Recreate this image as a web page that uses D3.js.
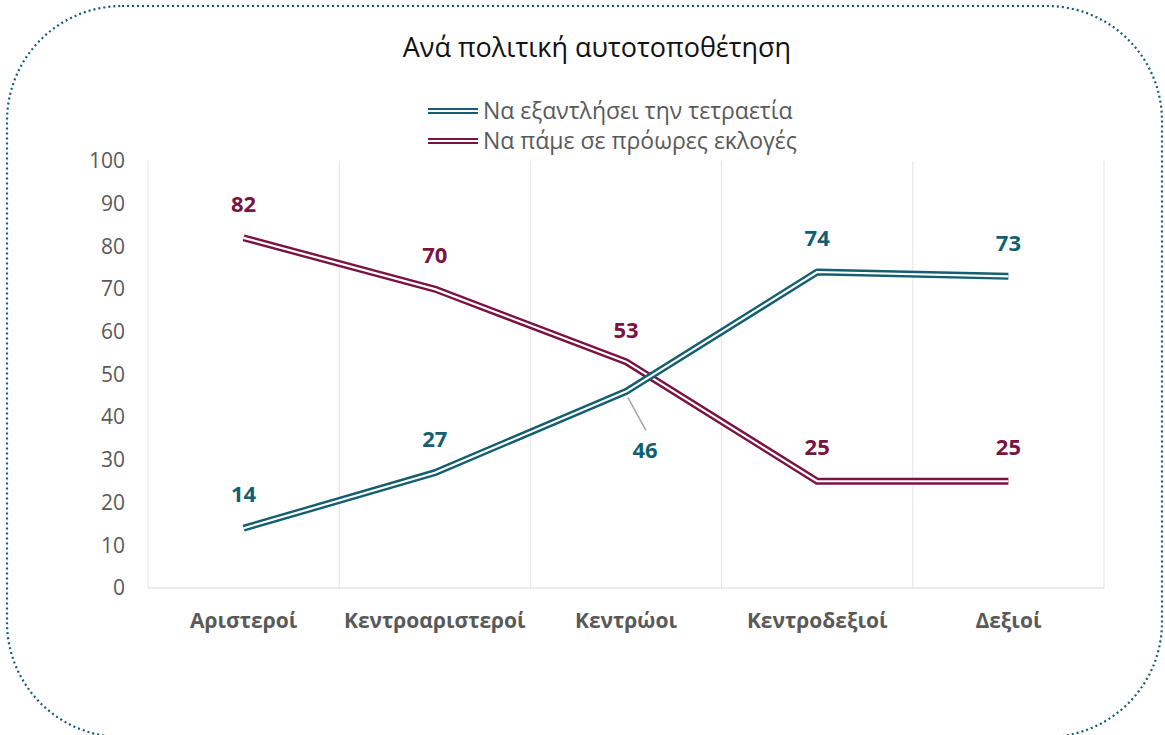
<!DOCTYPE html>
<html>
<head>
<meta charset="utf-8">
<script src="https://cdn.jsdelivr.net/npm/d3@7"></script>
<style>
  body { margin: 0; background: #fff; }
  svg text { font-family: "Open Sans", sans-serif; }
</style>
</head>
<body>
<svg id="chart" width="1165" height="735"></svg>
<script>
// categories and series
var categories = ["Αριστεροί", "Κεντροαριστεροί", "Κεντρώοι", "Κεντροδεξιοί", "Δεξιοί"];
var finishTerm = [14, 27, 46, 74, 73];
var earlyVote = [82, 70, 53, 25, 25];
var yTicks = [0, 10, 20, 30, 40, 50, 60, 70, 80, 90, 100];
var seriesNames = ["Να εξαντλήσει την τετραετία", "Να πάμε σε πρόωρες εκλογές"];

var teal = "#135f6f", maroon = "#7a1343", grey = "#595959";
var svg = d3.select("#chart");
var plotL = 148, plotR = 1104, plotT = 161, plotB = 588;
var fontFam = "'Open Sans', sans-serif";

// frame: dotted rounded border
svg.append("rect")
  .attr("x", 7).attr("y", 6).attr("width", 1155).attr("height", 731)
  .attr("rx", 115).attr("ry", 115)
  .attr("fill", "none").attr("stroke", teal)
  .attr("stroke-width", 2.2).attr("stroke-dasharray", "2 3");

svg.append("text").attr("x", 597).attr("y", 57)
  .attr("text-anchor", "middle").attr("font-size", 27).attr("fill", "#111")
  .text("Ανά πολιτική αυτοτοποθέτηση");

var x = d3.scaleBand().domain(categories).range([plotL, plotR]);
var y = d3.scaleLinear().domain([0, 100]).range([plotB, plotT]);

// vertical gridlines at category borders
var borders = categories.map(function (c) { return x(c); }).concat([plotR]);
svg.append("g").selectAll("line").data(borders).enter().append("line")
  .attr("x1", function (d) { return d; }).attr("x2", function (d) { return d; })
  .attr("y1", plotT).attr("y2", plotB)
  .attr("stroke", "#e3e3e3").attr("stroke-width", 1);
svg.append("line").attr("x1", plotL).attr("x2", plotR).attr("y1", plotB).attr("y2", plotB)
  .attr("stroke", "#d9d9d9").attr("stroke-width", 1);

// y axis labels
var ya = svg.append("g").attr("transform", "translate(" + (plotL - 23) + ",0)")
  .call(d3.axisLeft(y).tickValues(yTicks).tickSize(0).tickPadding(0));
ya.select(".domain").remove();
ya.selectAll("text").attr("font-size", 21).attr("fill", grey)
  .style("font-family", fontFam);

// x axis labels
var xa = svg.append("g").attr("transform", "translate(0," + (plotB + 21) + ")")
  .call(d3.axisBottom(x).tickSize(0).tickPadding(0));
xa.select(".domain").remove();
xa.selectAll("text").attr("font-size", 21).attr("font-weight", "bold").attr("fill", grey)
  .attr("dy", "0.9em")
  .style("font-family", fontFam);

var line = d3.line()
  .x(function (d, i) { return x(categories[i]) + x.bandwidth() / 2; })
  .y(function (d) { return y(d); });

function doubleLine(values, color) {
  svg.append("path").datum(values).attr("d", line).attr("fill", "none")
    .attr("stroke", color).attr("stroke-width", 7).attr("stroke-linejoin", "round");
  svg.append("path").datum(values).attr("d", line).attr("fill", "none")
    .attr("stroke", "#fff").attr("stroke-width", 2.2).attr("stroke-linejoin", "round");
}
doubleLine(earlyVote, maroon);
doubleLine(finishTerm, teal);

// leader line for 46
var cx46 = x(categories[2]) + x.bandwidth() / 2;
svg.append("line").attr("x1", cx46 + 2).attr("y1", y(finishTerm[2]) + 6)
  .attr("x2", cx46 + 20).attr("y2", y(finishTerm[2]) + 39)
  .attr("stroke", "#a6a6a6").attr("stroke-width", 1.5);

// data labels
function labels(values, color, offsets) {
  svg.append("g").selectAll("text").data(values).enter().append("text")
    .attr("x", function (d, i) { return x(categories[i]) + x.bandwidth() / 2 + offsets[i][0]; })
    .attr("y", function (d, i) { return y(d) + offsets[i][1]; })
    .attr("text-anchor", "middle").attr("font-size", 22).attr("font-weight", "bold")
    .attr("fill", color).text(function (d) { return d; });
}
labels(earlyVote, maroon, [[0, -26], [0, -26], [0, -24], [0, -26], [0, -26]]);
labels(finishTerm, teal, [[0, -26], [0, -26], [19, 66], [0, -26], [0, -25]]);

// legend
var legend = svg.append("g");
seriesNames.forEach(function (n, i) {
  var c = i === 0 ? teal : maroon;
  var ly = 111 + i * 30;
  legend.append("line").attr("x1", 428).attr("x2", 478).attr("y1", ly).attr("y2", ly)
    .attr("stroke", c).attr("stroke-width", 6);
  legend.append("line").attr("x1", 428).attr("x2", 478).attr("y1", ly).attr("y2", ly)
    .attr("stroke", "#fff").attr("stroke-width", 2);
  legend.append("text").attr("x", 483).attr("y", ly + 8).attr("font-size", 23)
    .attr("fill", grey).text(n);
});
</script>
</body>
</html>
